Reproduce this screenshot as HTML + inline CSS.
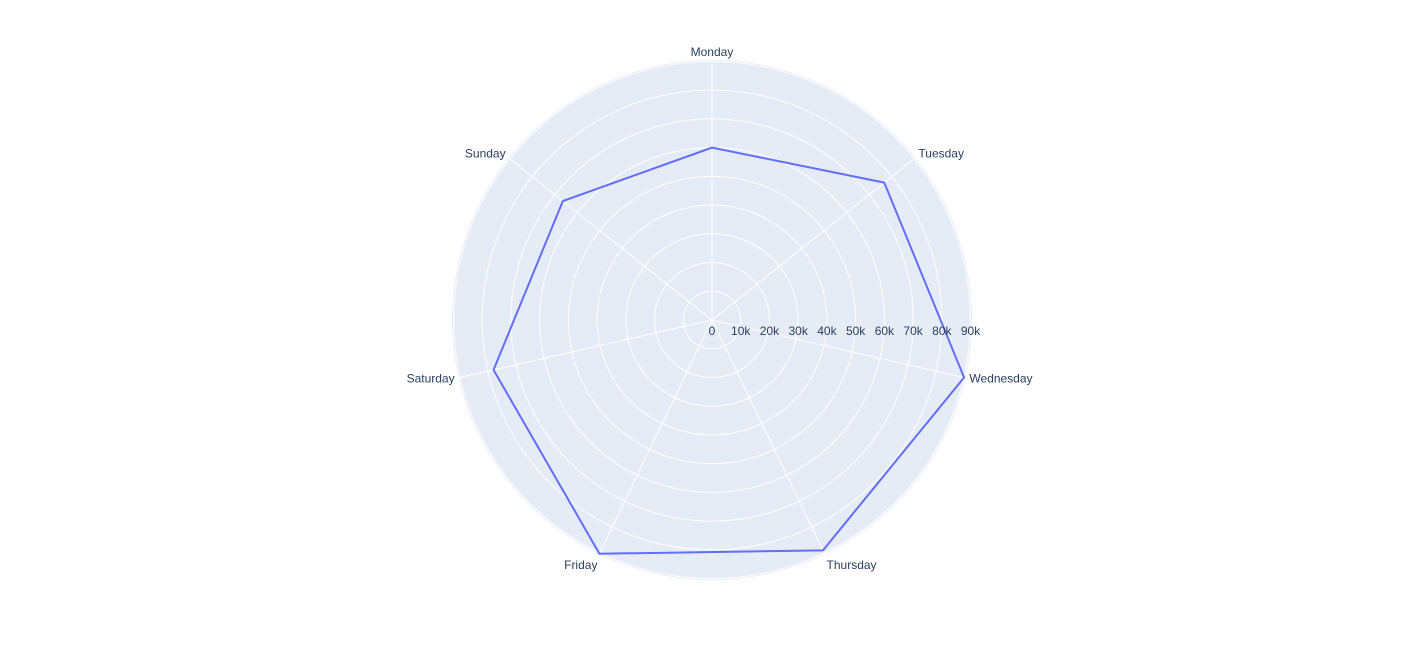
<!DOCTYPE html>
<html><head><meta charset="utf-8"><style>
body{margin:0;background:#fff;}
svg{display:block;font-family:"Liberation Sans",Arial,sans-serif;}
</style></head><body>
<svg id="chart" width="1424" height="660" viewBox="0 0 1424 660">
<circle cx="712" cy="320" r="260" fill="#E5ECF6"/>
<g id="grid"></g><g id="series"></g><g id="labels"></g>
</svg>
<script>
const categories=["Monday","Tuesday","Wednesday","Thursday","Friday","Saturday","Sunday"];
const values=[60000,76700,90000,89000,90300,78000,66400];
const tickValues=[0,10000,20000,30000,40000,50000,60000,70000,80000,90000];
const tickLabels=["0","10k","20k","30k","40k","50k","60k","70k","80k","90k"];
const rMax=90500;
const cx=712,cy=320,R=260,NS="http://www.w3.org/2000/svg";
function rs(v){return v/rMax*R;}
function ang(i){return (90-i*360/categories.length)*Math.PI/180;}
function pt(i,v){const a=ang(i),r=rs(v);return [cx+r*Math.cos(a),cy-r*Math.sin(a)];}
function mk(t,at,p){const e=document.createElementNS(NS,t);for(const k in at)e.setAttribute(k,at[k]);p.appendChild(e);return e;}
const g=document.getElementById('grid'),s=document.getElementById('series'),l=document.getElementById('labels');
tickValues.forEach((v,i)=>{if(v>0){const c=mk('circle',{cx:cx,cy:cy,r:rs(v),fill:'none',stroke:'#fff','stroke-width':1},g);

}
const t=mk('text',{x:cx+rs(v),y:cy+15,'text-anchor':'middle','font-size':12,fill:'#2a3f5f'},l);t.textContent=tickLabels[i];

});
categories.forEach((c,i)=>{const a=ang(i);
const ln=mk('line',{x1:cx,y1:cy,x2:cx+R*Math.cos(a),y2:cy-R*Math.sin(a),stroke:'#fff','stroke-width':1},g);


const lx=cx+(R+4)*Math.cos(a),ly=cy-(R+4)*Math.sin(a);
const cs=Math.cos(a),sn=Math.sin(a),anchor=Math.abs(cs)<0.1?'middle':(cs>0?'start':'end');
const dy=sn>0.9?0:(sn>0.5?2:(sn<-0.5?11:4));
const t=mk('text',{x:lx,y:ly+dy,'text-anchor':anchor,'font-size':12,fill:'#2a3f5f'},l);t.textContent=c;

});
const pts=values.map((v,i)=>pt(i,v));pts.push(pts[0]);
const poly=mk('polyline',{points:pts.map(p=>p.join(',')).join(' '),fill:'none',stroke:'#636efa','stroke-width':2,'stroke-linejoin':'round'},s);


</script>
</body></html>
